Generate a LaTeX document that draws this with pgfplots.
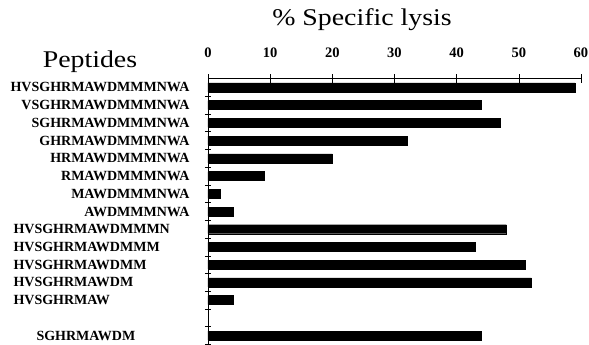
\documentclass[border=0pt]{standalone}
\usepackage{fontspec}
\setmainfont{Liberation Serif}
\usepackage{graphicx}
\usepackage{pgfplots}
\pgfplotsset{compat=1.18}
\begin{document}
\begin{tikzpicture}
\path[use as bounding box] (0,0) rectangle (589pt,-345pt);
\node[anchor=base] at (362pt,-26pt) {\scalebox{1.16}[1]{\fontsize{24}{24}\selectfont \% Specific lysis}};
\node[anchor=base] at (90pt,-68pt) {\scalebox{1.16}[1]{\fontsize{24}{24}\selectfont Peptides}};
\begin{axis}[
  at={(208pt,-78.5pt)}, anchor=north west,
  scale only axis, width=373pt, height=266pt,
  xmin=0, xmax=60, ymin=0.5, ymax=15.5, y dir=reverse,
  axis x line*=top, axis y line*=left,
  axis line style={-, black, line width=0.6pt},
  xtick={0,10,...,60}, xtick pos=top, xticklabel pos=top,
  xtick align=center, major tick length=9pt,
  xtick style={black, line width=0.6pt},
  xticklabel style={font=\bfseries\fontsize{14.5}{14.5}\selectfont, yshift=13pt},
  /pgf/number format/assume math mode=true,
  ytick=\empty,
  extra y ticks={1.5,2.5,...,15.5}, extra y tick labels={},
  extra y tick style={major tick length=6pt, tick align=center, tick style={black, line width=0.6pt}},
  clip=false,
]
\addplot[xbar, bar width=9pt, fill=black, draw=black] coordinates {
  (59,1) (44,2) (47,3) (32,4) (20,5) (9,6) (2,7) (4,8)
  (48,9) (43,10) (51,11) (52,12) (4,13) (44,15)
};
\begin{scope}[font=\bfseries\fontsize{14}{14}\selectfont]
\node[anchor=east] at ([xshift=-15pt]axis cs:0,1) {HVSGHRMAWDMMMNWA};
\node[anchor=east] at ([xshift=-15pt]axis cs:0,2) {VSGHRMAWDMMMNWA};
\node[anchor=east] at ([xshift=-15pt]axis cs:0,3) {SGHRMAWDMMMNWA};
\node[anchor=east] at ([xshift=-15pt]axis cs:0,4) {GHRMAWDMMMNWA};
\node[anchor=east] at ([xshift=-15pt]axis cs:0,5) {HRMAWDMMMNWA};
\node[anchor=east] at ([xshift=-15pt]axis cs:0,6) {RMAWDMMMNWA};
\node[anchor=east] at ([xshift=-15pt]axis cs:0,7) {MAWDMMMNWA};
\node[anchor=east] at ([xshift=-15pt]axis cs:0,8) {AWDMMMNWA};
\node[anchor=west] at ([xshift=-198pt]axis cs:0,9) {HVSGHRMAWDMMMN};
\node[anchor=west] at ([xshift=-198pt]axis cs:0,10) {HVSGHRMAWDMMM};
\node[anchor=west] at ([xshift=-198pt]axis cs:0,11) {HVSGHRMAWDMM};
\node[anchor=west] at ([xshift=-198pt]axis cs:0,12) {HVSGHRMAWDM};
\node[anchor=west] at ([xshift=-198pt]axis cs:0,13) {HVSGHRMAW};
\node[anchor=west] at ([xshift=-175pt]axis cs:0,15) {SGHRMAWDM};
\end{scope}
\end{axis}
\end{tikzpicture}
\end{document}
